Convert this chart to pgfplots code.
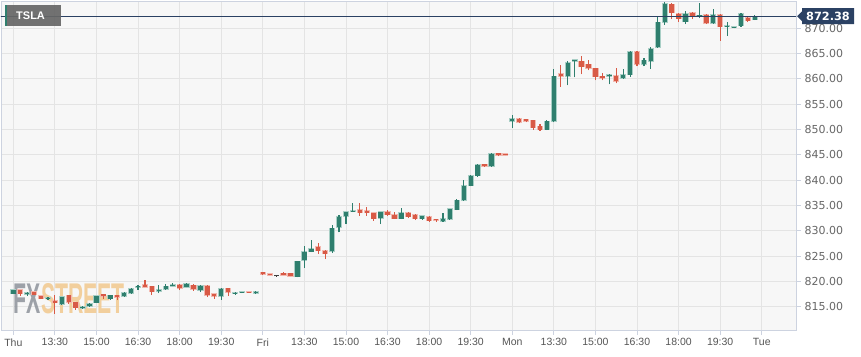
\documentclass[border=0pt]{standalone}
\usepackage{fontspec}
\setmainfont{Liberation Sans}
\newfontfamily\dvs{DejaVu Sans}
\usepackage{graphicx}
\usepackage{pgfplots}
\pgfplotsset{compat=1.18}
\usepackage{pgfplotstable}
\definecolor{cgreen}{HTML}{2F7F6E}
\definecolor{cred}{HTML}{D85A46}
\definecolor{hgreen}{HTML}{A9CFC6}
\definecolor{hred}{HTML}{F2B9B0}
\definecolor{bgc}{HTML}{F7F7F7}
\definecolor{gridc}{HTML}{E4E4E4}
\definecolor{framec}{HTML}{CDD3E0}
\definecolor{labc}{HTML}{555555}
\definecolor{labr}{HTML}{666666}
\definecolor{navy}{HTML}{2B4163}
\definecolor{wmgray}{HTML}{8E939B}
\definecolor{wmorange}{HTML}{F2C98E}
\definecolor{boxgray}{HTML}{666666}

% rising candles: index, open, high, low, close
\pgfplotstableread{
i o h l c
0 817.6 818.4 817.5 818.3
2 817.5 817.9 817.15 817.6
5 816.55 816.9 816.4 816.7
7 815.5 817.0 815.3 816.9
10 814.75 815.2 814.5 814.85
11 815.1 815.7 815.0 815.6
12 815.8 817.2 815.7 817.1
14 816.6 817.4 816.4 817.25
16 817.1 817.85 817.0 817.75
17 817.7 818.6 817.6 818.5
18 818.8 819.3 818.4 819.0
21 818.1 819.2 817.7 818.4
22 818.5 819.4 818.4 819.0
23 819.1 819.6 819.0 819.3
25 818.9 819.7 818.8 819.5
27 818.3 819.3 818.0 819.1
30 817.1 818.6 816.4 818.5
32 817.6 818.0 817.4 817.75
33 817.75 817.9 817.7 817.85
35 817.65 818.05 817.6 818.0
41 820.9 824.1 820.8 824.0
42 824.15 826.9 822.6 825.85
43 825.85 828.2 825.8 826.4
46 826.0 831.1 825.6 830.5
47 830.7 833.1 829.7 832.8
48 832.85 833.8 831.3 833.75
49 833.75 835.5 833.7 834.0
53 832.45 833.8 831.3 833.75
56 832.4 834.5 832.3 833.5
59 832.4 833.0 832.2 832.9
62 831.9 833.5 831.8 832.4
63 832.3 834.4 832.2 834.3
64 834.15 836.2 834.1 836.0
65 836.0 840.0 835.9 838.9
66 838.9 841.0 838.75 840.9
67 840.9 843.1 840.7 843.0
69 842.7 845.3 842.6 845.2
72 851.7 852.8 850.4 852.1
77 850.0 851.8 849.9 851.6
78 851.6 862.0 851.4 860.5
80 860.5 863.5 858.7 863.2
81 863.5 863.8 860.3 863.75
86 860.5 860.9 858.9 860.8
88 860.2 861.9 860.0 860.85
89 860.85 865.5 860.4 865.4
91 862.9 864.2 862.5 863.7
92 863.5 866.3 862.0 866.0
93 866.3 872.2 866.2 871.2
94 871.2 875.2 870.7 874.8
97 871.3 873.4 870.8 872.9
99 872.4 875.0 872.0 872.5
101 871.0 873.8 870.9 872.7
103 870.35 871.2 868.5 870.45
104 870.15 870.3 870.0 870.25
105 870.5 873.0 870.3 872.9
107 871.7 872.7 871.6 872.38
}\upT

% falling candles
\pgfplotstableread{
i o h l c
1 818.3 818.4 817.2 817.6
3 817.9 818.0 817.3 817.4
4 817.1 817.2 816.5 816.55
6 816.2 817.4 813.6 815.8
8 817.25 817.4 815.6 815.95
9 815.9 816.0 814.4 814.8
13 817.45 817.6 816.6 817.1
15 817.25 817.35 816.3 816.9
19 819.3 820.2 818.8 818.9
20 819.0 819.1 817.3 818.0
24 819.3 819.5 818.3 818.6
26 819.2 819.5 818.2 818.5
28 819.1 819.3 816.9 817.3
29 817.5 817.6 816.6 817.1
31 818.6 818.7 817.1 817.9
34 817.95 818.0 817.75 817.8
36 821.8 821.9 821.3 821.4
37 821.4 821.45 821.2 821.25
39 821.6 821.9 821.2 821.25
40 821.6 821.65 821.0 821.05
44 826.85 827.6 825.4 826.05
45 826.0 826.2 824.4 825.45
50 834.1 835.5 833.0 833.6
51 833.9 834.7 833.0 833.55
52 833.55 833.6 832.0 832.4
54 833.8 834.1 833.0 833.2
55 833.2 833.7 832.3 832.4
57 833.6 833.7 832.5 832.8
58 833.2 833.3 832.1 832.4
60 832.8 832.9 831.8 832.0
61 832.3 832.4 831.8 832.05
68 843.15 843.2 842.6 842.7
70 845.3 845.4 844.7 844.9
71 845.2 845.25 844.9 844.95
73 852.1 852.2 851.2 851.5
74 852.0 852.05 851.4 851.7
75 851.85 851.9 850.0 850.4
76 850.6 851.0 849.75 850.0
79 861.0 862.8 858.5 860.5
82 863.5 864.5 860.9 862.4
83 862.9 863.8 861.7 862.1
84 862.1 862.2 859.7 860.4
85 860.5 861.1 859.7 860.2
87 860.6 862.1 859.1 859.6
90 865.4 865.5 862.5 862.9
95 874.7 874.9 871.8 873.1
96 872.9 873.0 871.2 871.9
98 873.0 873.2 871.8 872.3
100 872.7 872.9 870.8 871.0
102 872.7 872.9 867.5 870.3
106 872.1 872.2 871.2 871.5
}\downT

% unchanged candle
\pgfplotstableread{
i o h l c
38 821.1 821.15 821.0 821.1
}\flatT

\pgfplotsset{
  wick/.style={draw=none, mark=none, forget plot,
    error bars/.cd, y dir=plus, y explicit, error mark=none,
    error bar style={draw=#1, solid, line width=1.1pt}},
  body/.style 2 args={draw=none, mark=none, forget plot,
    error bars/.cd, y dir=plus, y explicit, error mark=none,
    error bar style={draw=#1, solid, line width=#2, line cap=butt}},
}

\begin{document}
\begin{tikzpicture}
\useasboundingbox (0,0) rectangle (861pt,356pt);
\begin{axis}[
  at={(1pt,26pt)}, anchor=south west,
  scale only axis, width=795pt, height=329pt,
  xmin=-1.775, xmax=112.94, ymin=810.40, ymax=875.39,
  axis background/.style={fill=bgc},
  axis line style={draw=framec, line width=0.9pt},
  xtick={0,6,...,108},
  xticklabels={Thu,13:30,15:00,16:30,18:00,19:30,Fri,13:30,15:00,16:30,18:00,19:30,Mon,13:30,15:00,16:30,18:00,19:30,Tue},
  ytick={815,820,...,870},
  xtick pos=bottom, ytick pos=right, yticklabel pos=right,
  tick align=outside,
  major tick length=5pt,
  tick style={draw=framec, line width=0.9pt},
  grid=major, major grid style={draw=gridc, line width=0.9pt},
  xticklabel style={font=\fontsize{10.5}{12}\selectfont, text=labc},
  yticklabel style={font=\dvs\fontsize{11}{13}\selectfont, text=labr,
    /pgf/number format/.cd, fixed, fixed zerofill, precision=2, assume math mode=true},
]
% watermark
\node[opacity=0.85, inner sep=0pt] at (axis cs:8.1,816.6)
  {\scalebox{0.494}[1]{\fontsize{43}{43}\selectfont\bfseries\color{wmgray}FX\color{wmorange}STREET}};

% halos
\addplot[body={hgreen}{6.2pt}] table[x=i, y expr={min(\thisrow{o},\thisrow{c})-0.12}, y error plus expr={max(abs(\thisrow{c}-\thisrow{o}),0.2)+0.24}] {\upT};
\addplot[body={hred}{6.2pt}] table[x=i, y expr={min(\thisrow{o},\thisrow{c})-0.12}, y error plus expr={max(abs(\thisrow{c}-\thisrow{o}),0.2)+0.24}] {\downT};
% wicks
\addplot[wick=cgreen] table[x=i, y=l, y error plus expr={\thisrow{h}-\thisrow{l}}] {\upT};
\addplot[wick=cred] table[x=i, y=l, y error plus expr={\thisrow{h}-\thisrow{l}}] {\downT};
\addplot[wick=darkgray] table[x=i, y=l, y error plus expr={\thisrow{h}-\thisrow{l}}] {\flatT};
% bodies
\addplot[body={cgreen}{4.4pt}] table[x=i, y expr={min(\thisrow{o},\thisrow{c})}, y error plus expr={max(abs(\thisrow{c}-\thisrow{o}),0.2)}] {\upT};
\addplot[body={cred}{4.4pt}] table[x=i, y expr={min(\thisrow{o},\thisrow{c})}, y error plus expr={max(abs(\thisrow{c}-\thisrow{o}),0.2)}] {\downT};
\addplot[body={black!75}{4.4pt}] table[x=i, y expr={\thisrow{o}-0.1}, y error plus expr={0.25}] {\flatT};

% last price line
\addplot[navy, line width=0.9pt, forget plot] coordinates {(-3,872.38) (114,872.38)};
\end{axis}

% symbol box
\fill[boxgray, fill opacity=0.92] (5pt,351pt) rectangle (61pt,330pt);
\fill[cgreen] (5pt,351pt) rectangle (7.3pt,330pt);
\node[text=white, inner sep=0pt, anchor=west] at (16pt,340.5pt)
  {\fontsize{11}{12}\selectfont\bfseries TSLA};

% last price tag
\fill[navy] (797pt,339.75pt) -- (802pt,344.75pt) -- (802pt,347.75pt) -- (854pt,347.75pt)
  -- (854pt,331.75pt) -- (802pt,331.75pt) -- (802pt,334.75pt) -- cycle;
\node[text=white, inner sep=0pt] at (828pt,339.75pt)
  {\dvs\fontsize{11.3}{13}\selectfont\bfseries 872.38};
\end{tikzpicture}
\end{document}
